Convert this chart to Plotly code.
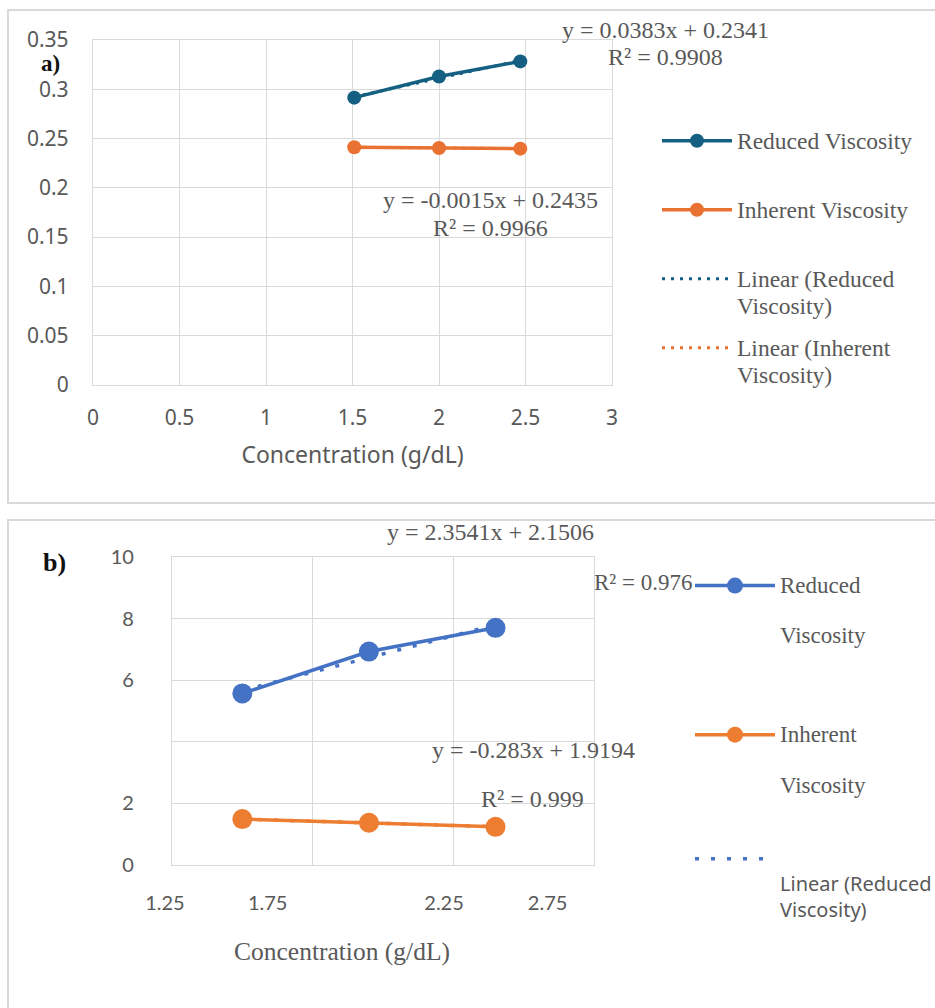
import numpy as np
import plotly.graph_objects as go

W, H = 935, 1008

# ---------------- data ----------------
# panel a)
a_conc = [1.51, 2.00, 2.47]
a_reduced = [0.2915, 0.3130, 0.3283]
a_inherent = [0.2412, 0.2405, 0.2398]
a_xticks = [0, 0.5, 1, 1.5, 2, 2.5, 3]
a_yticks = [0, 0.05, 0.1, 0.15, 0.2, 0.25, 0.3, 0.35]
a_ytick_text = ["0", "0.05", "0.1", "0.15", "0.2", "0.25", "0.3", "0.35"]
a_eq_reduced = ["y = 0.0383x + 0.2341", "R² = 0.9908"]
a_eq_inherent = ["y = -0.0015x + 0.2435", "R² = 0.9966"]

# panel b)
b_conc = [1.50, 1.95, 2.40]
b_reduced = [5.57, 6.93, 7.70]
b_inherent = [1.49, 1.37, 1.24]
b_yticks = [0, 2, 4, 6, 8, 10]
b_ytick_text = ["0", "2", "", "6", "8", "10"]
b_xtick_text = ["1.25", "1.75", "2.25", "2.75"]
b_eq_reduced = ["y = 2.3541x + 2.1506", "R² = 0.976"]
b_eq_inherent = ["y = -0.283x + 1.9194", "R² = 0.999"]

x_title = "Concentration (g/dL)"

# ---------------- styles ----------------
A_BLUE, A_ORANGE = "#156082", "#E97132"
B_BLUE, B_ORANGE = "#4472C4", "#ED7D31"
GRID = "#d9d9d9"
TXT = "#595959"
SERIF = "Liberation Serif"
SANS = "Noto Sans"
SANS_B = "Lato"


def px(x):
    return x / W


def py(y):
    return 1 - y / H


def span(t, size, family=None):
    st = f"font-size:{size}px"
    if family:
        st += f";font-family:{family}"
    return f'<span style="{st}">{t}</span>'


def trend(x, y):
    k, b = np.polyfit(x, y, 1)
    xs = np.array([min(x), max(x)])
    return xs, k * xs + b


fig = go.Figure()

# ---- panel a traces ----
fig.add_trace(go.Scatter(
    x=a_conc, y=a_reduced, mode="lines+markers",
    name=span("Reduced Viscosity", 23.5) + "<br>\u00a0",
    line=dict(color=A_BLUE, width=3.5), marker=dict(size=14, color=A_BLUE),
    xaxis="x", yaxis="y", legend="legend", legendgroup="a1"))
fig.add_trace(go.Scatter(
    x=a_conc, y=a_inherent, mode="lines+markers",
    name=span("Inherent Viscosity", 23.5) + "<br>\u00a0",
    line=dict(color=A_ORANGE, width=3.5), marker=dict(size=14, color=A_ORANGE),
    xaxis="x", yaxis="y", legend="legend", legendgroup="a2"))
tx, ty = trend(a_conc, a_reduced)
fig.add_trace(go.Scatter(
    x=tx, y=ty, mode="lines",
    name=span("Linear (Reduced", 23.5) + "<br>" + span("Viscosity)", 23.5),
    line=dict(color=A_BLUE, width=3, dash="3px,6px"),
    xaxis="x", yaxis="y", legend="legend", legendgroup="a3"))
tx, ty = trend(a_conc, a_inherent)
fig.add_trace(go.Scatter(
    x=tx, y=ty, mode="lines",
    name=span("Linear (Inherent", 23.5) + "<br>" + span("Viscosity)", 23.5),
    line=dict(color=A_ORANGE, width=3, dash="3px,6px"),
    xaxis="x", yaxis="y", legend="legend", legendgroup="a4"))

# ---- panel b traces ----
fig.add_trace(go.Scatter(
    x=b_conc, y=b_reduced, mode="lines+markers",
    name=span("Reduced", 23) + "<br>\u00a0<br>" + span("Viscosity", 23) + "<br>\u00a0",
    line=dict(color=B_BLUE, width=3.5), marker=dict(size=20, color=B_BLUE),
    xaxis="x2", yaxis="y2", legend="legend2", legendgroup="b1"))
fig.add_trace(go.Scatter(
    x=b_conc, y=b_inherent, mode="lines+markers",
    name=span("Inherent", 23) + "<br>\u00a0<br>" + span("Viscosity", 23),
    line=dict(color=B_ORANGE, width=3.5), marker=dict(size=20, color=B_ORANGE),
    xaxis="x2", yaxis="y2", legend="legend2", legendgroup="b2"))
tx, ty = trend(b_conc, b_reduced)
fig.add_trace(go.Scatter(
    x=tx, y=ty, mode="lines",
    name="\u00a0<br>" + span("Linear (Reduced", 20, SANS) + "<br>" + span("Viscosity)", 20, SANS),
    line=dict(color=B_BLUE, width=3.5, dash="4px,12px"),
    xaxis="x2", yaxis="y2", legend="legend2", legendgroup="b3"))
tx, ty = trend(b_conc, b_inherent)
fig.add_trace(go.Scatter(
    x=tx, y=ty, mode="lines", showlegend=False,
    name="Linear (Inherent Viscosity)",
    line=dict(color=B_ORANGE, width=3.5, dash="4px,12px"),
    xaxis="x2", yaxis="y2", legend="legend2", legendgroup="b4"))
# empty trace so that the tick-label axis of panel b gets drawn
fig.add_trace(go.Scatter(x=[], y=[], xaxis="x3", yaxis="y3", showlegend=False,
                         hoverinfo="skip"))

axis_common = dict(showgrid=True, gridcolor=GRID, gridwidth=1.3, showline=True,
                   linecolor=GRID, linewidth=1.3, mirror=True, zeroline=False,
                   ticks="", fixedrange=True)

# panel b x scale (the label axis mirrors it)
b_x0, b_x1 = 1.25, 2.75
b_px0, b_px1 = 172, 594
b_scale = (b_px1 - b_px0) / (b_x1 - b_x0)
lab_px0, lab_px1 = 0.10 * W, 0.70 * W
lab_range = [b_x0 - (b_px0 - lab_px0) / b_scale, b_x0 + (lab_px1 - b_px0) / b_scale]
b_ydomain = [py(865), py(557)]

fig.update_layout(
    width=W, height=H,
    margin=dict(l=0, r=0, t=0, b=0, autoexpand=False),
    paper_bgcolor="white", plot_bgcolor="rgba(0,0,0,0)",
    showlegend=True,
    xaxis=dict(**axis_common, domain=[px(93), px(612)], range=[0, 3],
               tickvals=a_xticks, anchor="y",
               tickfont=dict(family=SANS, size=21, color=TXT), ticklabelstandoff=14,
               title=dict(text=x_title, font=dict(family=SANS, size=23, color=TXT), standoff=16)),
    yaxis=dict(**axis_common, domain=[py(385), py(40)], range=[0, 0.35],
               tickvals=a_yticks, ticktext=a_ytick_text, anchor="x",
               tickfont=dict(family=SANS, size=21, color=TXT), ticklabelstandoff=19),
    xaxis2=dict(**axis_common, domain=[px(b_px0), px(b_px1)], range=[b_x0, b_x1],
                tick0=1.25, dtick=0.5, showticklabels=False, anchor="y2"),
    yaxis2=dict(**axis_common, domain=b_ydomain, range=[0, 10],
                tickvals=b_yticks, ticktext=b_ytick_text, anchor="x2",
                tickfont=dict(family=SANS_B, size=20, color=TXT), ticklabelstandoff=33),
    xaxis3=dict(domain=[0.10, 0.70], range=lab_range, anchor="y3",
                showgrid=False, showline=False, zeroline=False, ticks="",
                tickvals=[1.225, 1.59, 2.217, 2.585], ticktext=b_xtick_text,
                tickfont=dict(family=SANS_B, size=20, color=TXT), ticklabelstandoff=24,
                fixedrange=True),
    yaxis3=dict(domain=b_ydomain, range=[0, 1], anchor="x3", visible=False,
                fixedrange=True),
    legend=dict(x=px(657), y=py(120.7), xanchor="left", yanchor="top",
                bgcolor="rgba(0,0,0,0)", borderwidth=0, valign="top",
                traceorder="grouped", tracegroupgap=11.9, itemwidth=70,
                font=dict(family=SERIF, size=20.8, color=TXT)),
    legend2=dict(x=px(690), y=py(566.5), xanchor="left", yanchor="top",
                 bgcolor="rgba(0,0,0,0)", borderwidth=0, valign="top",
                 traceorder="grouped", tracegroupgap=45.5, itemwidth=80,
                 font=dict(family=SERIF, size=19.35, color=TXT)),
)

# frames around the two panels
fig.add_shape(type="rect", xref="paper", yref="paper", x0=px(8), x1=1.02,
              y0=py(503), y1=py(10), line=dict(color=GRID, width=2), layer="below")
fig.add_shape(type="rect", xref="paper", yref="paper", x0=px(8), x1=1.02,
              y0=-0.02, y1=py(520), line=dict(color=GRID, width=2), layer="below")


def note(text, x, y, size=24, anchor="center", family=SERIF, color=TXT, bold=False):
    t = f"<b>{text}</b>" if bold else text
    fig.add_annotation(text=t, x=px(x), y=py(y), xref="paper", yref="paper",
                       xanchor=anchor, yanchor="middle", showarrow=False, borderpad=0,
                       font=dict(family=family, size=size, color=color))


note("a)", 50.5, 63.5, size=23, bold=True, color="#111111")
note(a_eq_reduced[0], 665.7, 30)
note(a_eq_reduced[1], 665.7, 56.7)
note(a_eq_inherent[0], 490.5, 200)
note(a_eq_inherent[1], 490, 228)

note("b)", 54, 562.7, size=26, bold=True, color="#111111")
note(b_eq_reduced[0], 490.5, 531.6)
note(b_eq_reduced[1], 592.7, 582.7, size=23, anchor="left")
note(b_eq_inherent[0], 533.4, 750)
note(b_eq_inherent[1], 532, 799)
note(x_title, 341.7, 951, size=25.5)

fig.write_html("out.html", config={"displayModeBar": False},
               post_script="document.body.style.margin='0';")
